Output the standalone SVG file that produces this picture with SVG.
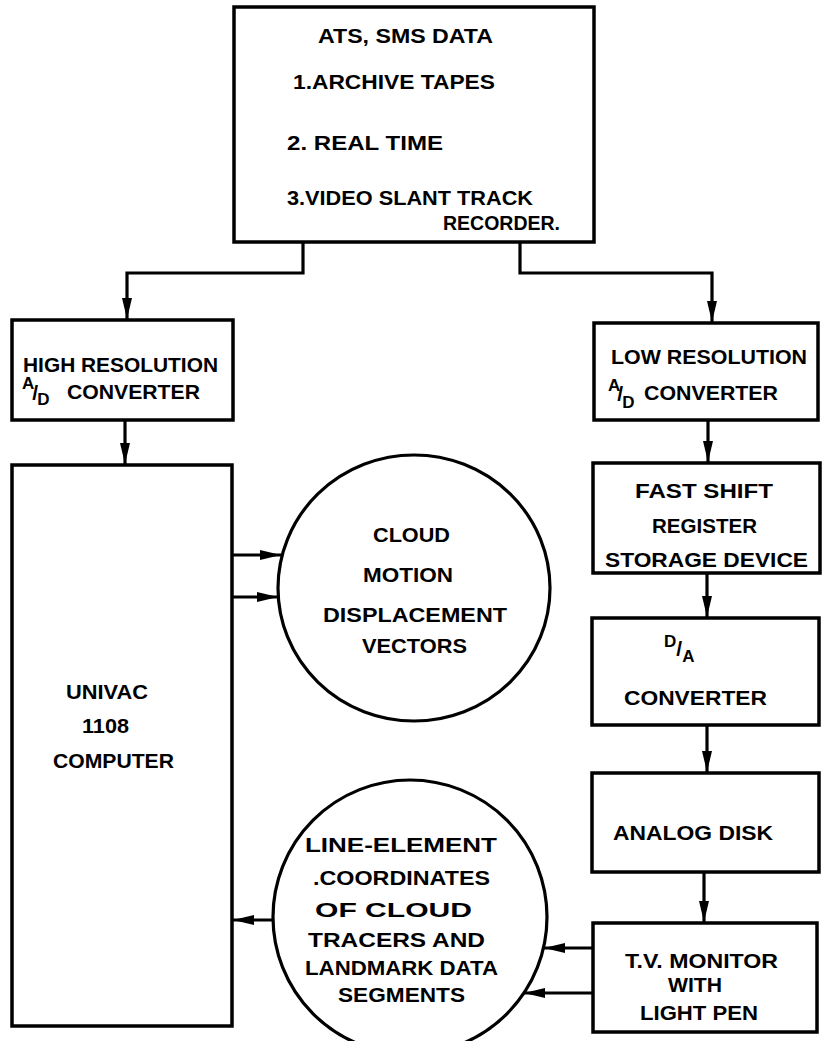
<svg xmlns="http://www.w3.org/2000/svg" width="823" height="1041" viewBox="0 0 823 1041">
<style>
.box{fill:#fff;stroke:#000;stroke-width:3.5}
.circ{fill:#fff;stroke:#000;stroke-width:3.2}
.t{font-family:"Liberation Sans",Arial,sans-serif;font-weight:bold;font-size:21px;fill:#000}
.s{font-family:"Liberation Sans",Arial,sans-serif;font-weight:bold;font-size:17px;fill:#000}
.sl{font-size:21px}
.c{fill:none;stroke:#000;stroke-width:3.2}
</style>
<defs>
<marker id="ah" markerUnits="userSpaceOnUse" markerWidth="22" markerHeight="12" refX="21" refY="6" orient="auto">
<path d="M0,1 L21,6 L0,11 z" fill="#000"/>
</marker>
</defs>
<rect width="823" height="1041" fill="#fff"/>
<g id="connectors">
<path class="c" d="M303,242 V273 H127 V319" marker-end="url(#ah)"/>
<path class="c" d="M520,242 V273 H712 V322" marker-end="url(#ah)"/>
<path class="c" d="M125,420 V464" marker-end="url(#ah)"/>
<path class="c" d="M232,555 H281" marker-end="url(#ah)"/>
<path class="c" d="M232,597 H278" marker-end="url(#ah)"/>
<path class="c" d="M708,420 V462" marker-end="url(#ah)"/>
<path class="c" d="M707,573 V617" marker-end="url(#ah)"/>
<path class="c" d="M707,725 V772" marker-end="url(#ah)"/>
<path class="c" d="M704,872 V922" marker-end="url(#ah)"/>
<path class="c" d="M593,948 H544" marker-end="url(#ah)"/>
<path class="c" d="M593,993 H524" marker-end="url(#ah)"/>
<path class="c" d="M273,920 H233" marker-end="url(#ah)"/>
</g>
<g id="source">
<rect class="box" x="234" y="7" width="360" height="235"/>
<text class="t" x="318" y="43" textLength="175" lengthAdjust="spacingAndGlyphs">ATS, SMS DATA</text>
<text class="t" x="293" y="89" textLength="202" lengthAdjust="spacingAndGlyphs">1.ARCHIVE  TAPES</text>
<text class="t" x="287" y="150" textLength="156" lengthAdjust="spacingAndGlyphs">2. REAL  TIME</text>
<text class="t" x="287" y="205" textLength="246" lengthAdjust="spacingAndGlyphs">3.VIDEO SLANT TRACK</text>
<text class="t" x="443" y="230" textLength="117" lengthAdjust="spacingAndGlyphs">RECORDER.</text>
</g>
<g id="highres">
<rect class="box" x="12" y="320" width="221" height="100"/>
<text class="t" x="23" y="372" textLength="195" lengthAdjust="spacingAndGlyphs">HIGH RESOLUTION</text>
<text class="s" x="22" y="389">A<tspan class="sl" dx="-2" dy="11">/</tspan><tspan dx="-1" dy="5">D</tspan></text>
<text class="t" x="67" y="399" textLength="133" lengthAdjust="spacingAndGlyphs">CONVERTER</text>
</g>
<g id="lowres">
<rect class="box" x="594" y="323" width="224" height="97"/>
<text class="t" x="611" y="364" textLength="196" lengthAdjust="spacingAndGlyphs">LOW RESOLUTION</text>
<text class="s" x="608" y="391">A<tspan class="sl" dx="-3" dy="10">/</tspan><tspan dx="-1" dy="7">D</tspan></text>
<text class="t" x="644" y="400" textLength="134" lengthAdjust="spacingAndGlyphs">CONVERTER</text>
</g>
<g id="univac">
<rect class="box" x="12" y="465" width="220" height="561"/>
<text class="t" x="66" y="699" textLength="82" lengthAdjust="spacingAndGlyphs">UNIVAC</text>
<text class="t" x="82" y="733" textLength="47" lengthAdjust="spacingAndGlyphs">1108</text>
<text class="t" x="53" y="768" textLength="121" lengthAdjust="spacingAndGlyphs">COMPUTER</text>
</g>
<g id="cloudmotion">
<ellipse class="circ" cx="414" cy="588" rx="136" ry="133"/>
<text class="t" x="373" y="542" textLength="77" lengthAdjust="spacingAndGlyphs">CLOUD</text>
<text class="t" x="363" y="582" textLength="90" lengthAdjust="spacingAndGlyphs">MOTION</text>
<text class="t" x="323" y="622" textLength="184" lengthAdjust="spacingAndGlyphs">DISPLACEMENT</text>
<text class="t" x="362" y="653" textLength="105" lengthAdjust="spacingAndGlyphs">VECTORS</text>
</g>
<g id="fastshift">
<rect class="box" x="593" y="463" width="227" height="110"/>
<text class="t" x="635" y="498" textLength="138" lengthAdjust="spacingAndGlyphs">FAST  SHIFT</text>
<text class="t" x="652" y="533" textLength="105" lengthAdjust="spacingAndGlyphs">REGISTER</text>
<text class="t" x="605" y="567" textLength="203" lengthAdjust="spacingAndGlyphs">STORAGE DEVICE</text>
</g>
<g id="da">
<rect class="box" x="592" y="618" width="227" height="107"/>
<text class="s" x="664" y="647">D<tspan class="sl" dx="0" dy="9">/</tspan><tspan dx="0" dy="6">A</tspan></text>
<text class="t" x="624" y="705" textLength="143" lengthAdjust="spacingAndGlyphs">CONVERTER</text>
</g>
<g id="analog">
<rect class="box" x="592" y="773" width="227" height="99"/>
<text class="t" x="613" y="840" textLength="160" lengthAdjust="spacingAndGlyphs">ANALOG  DISK</text>
</g>
<g id="tvmonitor">
<rect class="box" x="593" y="923" width="224" height="109"/>
<text class="t" x="625" y="968" textLength="153" lengthAdjust="spacingAndGlyphs">T.V.  MONITOR</text>
<text class="t" x="668" y="992" textLength="54" lengthAdjust="spacingAndGlyphs">WITH</text>
<text class="t" x="640" y="1020" textLength="118" lengthAdjust="spacingAndGlyphs">LIGHT PEN</text>
</g>
<g id="lineelement">
<ellipse class="circ" cx="410" cy="917" rx="137" ry="137"/>
<text class="t" x="305" y="852" textLength="192" lengthAdjust="spacingAndGlyphs">LINE-ELEMENT</text>
<text class="t" x="313" y="885" textLength="177" lengthAdjust="spacingAndGlyphs">.COORDINATES</text>
<text class="t" x="315" y="917" textLength="157" lengthAdjust="spacingAndGlyphs">OF   CLOUD</text>
<text class="t" x="308" y="947" textLength="177" lengthAdjust="spacingAndGlyphs">TRACERS  AND</text>
<text class="t" x="305" y="975" textLength="193" lengthAdjust="spacingAndGlyphs">LANDMARK DATA</text>
<text class="t" x="338" y="1002" textLength="127" lengthAdjust="spacingAndGlyphs">SEGMENTS</text>
</g>
</svg>
